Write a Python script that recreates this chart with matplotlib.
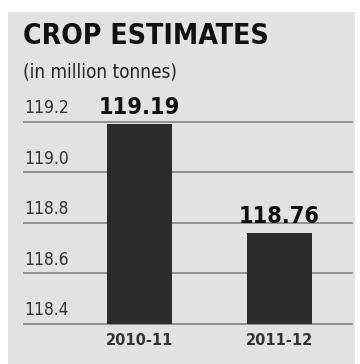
import matplotlib
matplotlib.use("Agg")
import matplotlib.pyplot as plt
from matplotlib.patches import Rectangle

# data
seasons = ["2010-11", "2011-12"]
estimates = [119.19, 118.76]
y_ticks = [118.4, 118.6, 118.8, 119.0, 119.2]
y_tick_labels = ["118.4", "118.6", "118.8", "119.0", "119.2"]

W, H = 360, 364
fig = plt.figure(figsize=(W / 100, H / 100), dpi=100)
fig.patch.set_facecolor("white")

# grey panel behind everything
fig.patches.append(Rectangle((8 / W, 0), 347 / W, (H - 12) / H,
                             transform=fig.transFigure, facecolor="#e2e2e2",
                             edgecolor="none", zorder=-5))

fam = ["DejaVu Sans"]

fig.text(23 / W, 1 - 44 / H, "CROP ESTIMATES", family=fam, stretch="condensed",
         weight="bold", fontsize=20.3, color="#111111", va="baseline")
fig.text(23 / W, 1 - 78 / H, "(in million tonnes)", family=fam, stretch="condensed",
         fontsize=13.6, color="#222222", va="baseline")

# axes placed so 118.4 sits at y=324px and 119.2 at y=121.7px
left, right = 24, 352
bottom_px, top_px = 324, 121.7
ax = fig.add_axes([left / W, (H - bottom_px) / H, (right - left) / W,
                   (bottom_px - top_px) / H])
ax.set_facecolor("none")
ax.set_zorder(2)

x = [0, 1]
ax.bar(x, estimates, width=0.466, color="#2b2b2b", zorder=3)
ax.set_ylim(118.4, 119.2)
ax.set_xlim(-0.828, 1.523)

for v, lab in zip(y_ticks, y_tick_labels):
    ax.axhline(v, color="#8a8a8a", linewidth=1.3, zorder=2, clip_on=False)
    ax.text(0, v + 0.018, lab, transform=ax.get_yaxis_transform(),
            family=fam, stretch="condensed", fontsize=12.5, color="#333333",
            ha="left", va="bottom")

for xi, val in zip(x, estimates):
    ax.text(xi, val + 0.02, f"{val:.2f}", family=fam, stretch="condensed",
            weight="bold", fontsize=16.8, color="#111111", ha="center",
            va="bottom", zorder=4)
    ax.text(xi, 118.4 - 0.035, seasons[xi], family=fam, stretch="condensed",
            weight="bold", fontsize=11.7, color="#333333", ha="center", va="top")

for s in ax.spines.values():
    s.set_visible(False)
ax.set_xticks([])
ax.set_yticks([])

fig.savefig("out.png", dpi=100)
